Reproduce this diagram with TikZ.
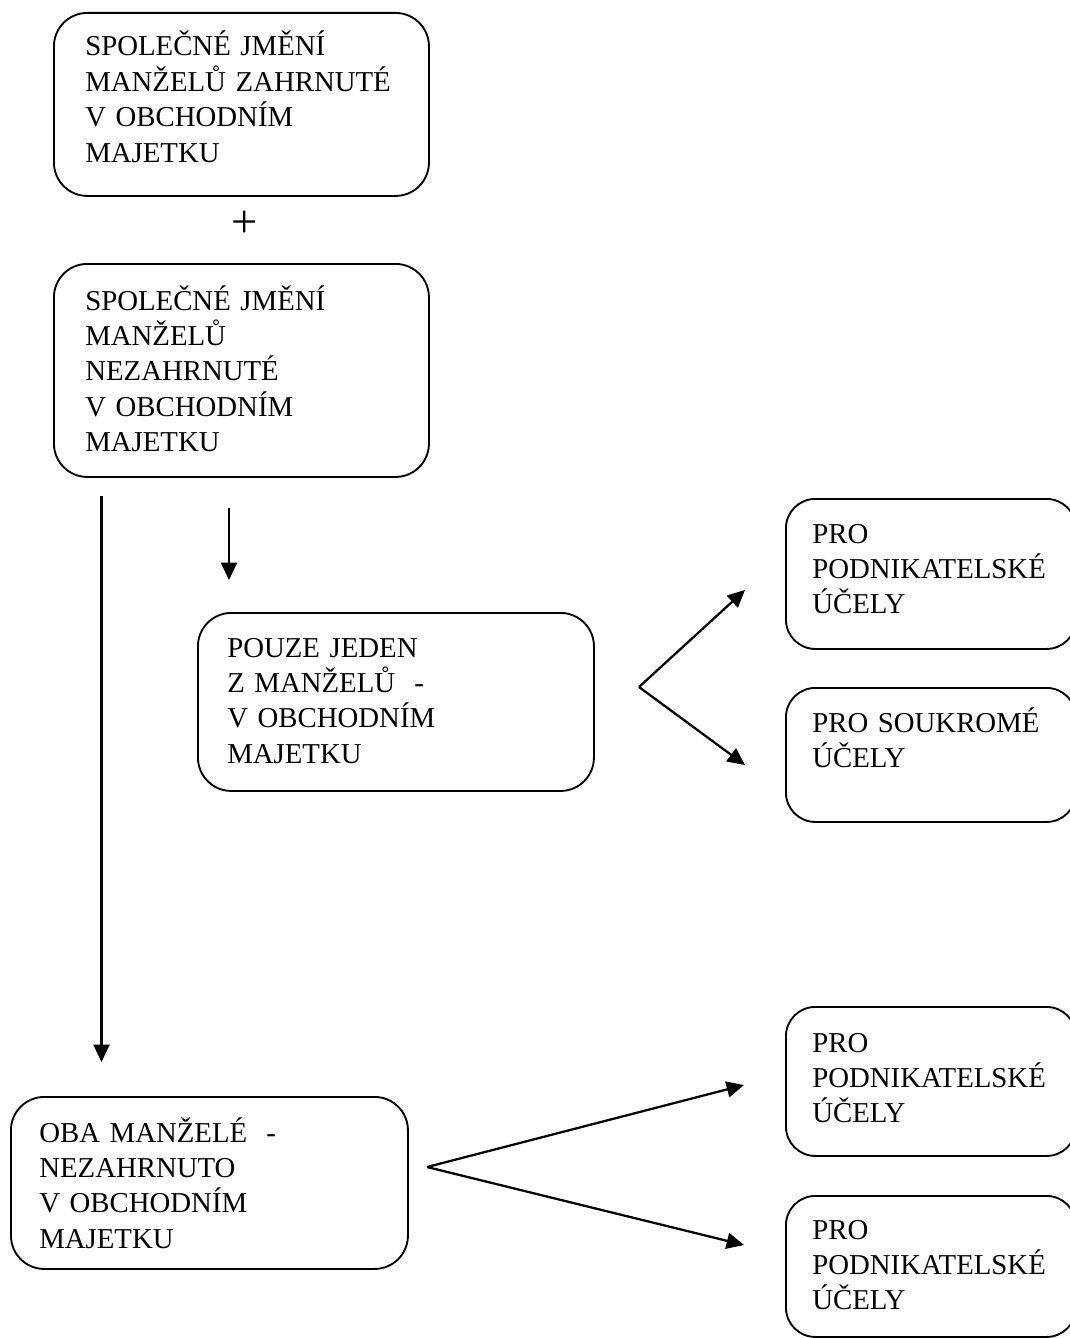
\documentclass[tikz,border=0pt]{standalone}
\usepackage{fontspec}
\setmainfont{Liberation Serif}
\usetikzlibrary{arrows.meta}

\begin{document}
\begin{tikzpicture}[x=0.75pt,y=-0.75pt,
  box/.style={draw, line width=1.4pt, rounded corners=25pt, inner sep=0pt,
              anchor=north west},
  smallbox/.style={box, rounded corners=22pt},
  label/.style={anchor=base west, align=left, inner sep=0pt, text width=240pt,
                font=\fontsize{21.6}{26.6}\selectfont},
  flow/.style={line width=1.7pt, -{Triangle[length=13pt,width=12pt]}}]

\useasboundingbox (0,0) rectangle (1070,1338);

% rounded boxes
\node[box, minimum width=281.25pt, minimum height=137.25pt] (b1) at (53,12) {};
\node[box, minimum width=281.25pt, minimum height=159.75pt] (b2) at (53,263) {};
\node[box, minimum width=297pt,    minimum height=133.5pt]  (b3) at (197,612) {};
\node[smallbox, minimum width=217.5pt, minimum height=112.5pt]  (b4) at (785,498) {};
\node[smallbox, minimum width=217.5pt, minimum height=100.5pt]  (b5) at (785,687) {};
\node[smallbox, minimum width=217.5pt, minimum height=111.75pt] (b6) at (785,1006) {};
\node[smallbox, minimum width=217.5pt, minimum height=105.75pt] (b7) at (785,1195) {};
\node[box, minimum width=297.75pt, minimum height=129pt]    (b8) at (10,1096) {};

% texts (anchored at the baseline of the first line)
\node[label] (t1) at (85,56)
  {SPOLEČNÉ JMĚNÍ\\MANŽELŮ ZAHRNUTÉ\\V OBCHODNÍM\\MAJETKU};
\node[label] (t2) at (85,310)
  {SPOLEČNÉ JMĚNÍ\\MANŽELŮ\\NEZAHRNUTÉ\\V OBCHODNÍM\\MAJETKU};
\node[label] (t3) at (227,657)
  {POUZE JEDEN\\Z MANŽELŮ\ \ -\\V OBCHODNÍM\\MAJETKU};
\node[label] (t4) at (812,543)
  {PRO\\PODNIKATELSKÉ\\ÚČELY};
\node[label] (t5) at (812,732)
  {PRO SOUKROMÉ\\ÚČELY};
\node[label] (t6) at (812,1052)
  {PRO\\PODNIKATELSKÉ\\ÚČELY};
\node[label] (t7) at (812,1239)
  {PRO\\PODNIKATELSKÉ\\ÚČELY};
\node[label] (t8) at (39,1142)
  {OBA MANŽELÉ\ \ -\\NEZAHRNUTO\\V OBCHODNÍM\\MAJETKU};

% plus sign between the two upper boxes
\node[inner sep=0pt, font=\fontsize{35}{35}\selectfont] (plus) at (245,224.5) {+};

% arrow end points
\coordinate (longS) at (101.5,496);
\coordinate (longE) at (101.5,1062);
\coordinate (shortS) at (229,508);
\coordinate (shortE) at (229,580);
\coordinate (forkA) at (639,687);
\coordinate (forkAup) at (745,590);
\coordinate (forkAdn) at (745,765);
\coordinate (forkB) at (427,1167);
\coordinate (forkBup) at (744,1085);
\coordinate (forkBdn) at (744,1245);

% arrows
\draw[flow] (longS) -- (longE);
\draw[flow] (shortS) -- (shortE);
\draw[flow] (forkA) -- (forkAup);
\draw[flow] (forkA) -- (forkAdn);
\draw[flow] (forkB) -- (forkBup);
\draw[flow] (forkB) -- (forkBdn);
\end{tikzpicture}
\end{document}
